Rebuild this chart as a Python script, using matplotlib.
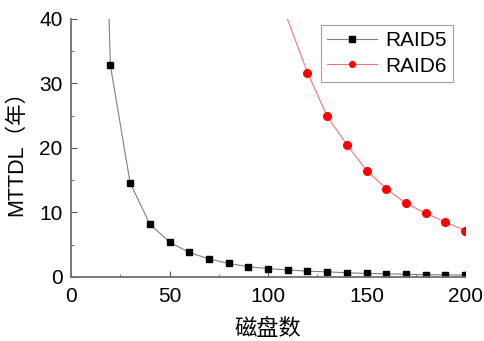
import matplotlib
matplotlib.use("Agg")
import matplotlib.pyplot as plt
from matplotlib.ticker import MultipleLocator

disks5 = [10, 20, 30, 40, 50, 60, 70, 80, 90, 100, 110, 120, 130, 140, 150, 160, 170, 180, 190, 200]
raid5 = [138, 32.8, 14.6, 8.2, 5.4, 3.8, 2.8, 2.1, 1.6, 1.3, 1.1, 0.9, 0.8, 0.65, 0.55, 0.5, 0.42, 0.37, 0.33, 0.3]
disks6 = [100, 120, 130, 140, 150, 160, 170, 180, 190, 200]
raid6 = [48, 31.7, 24.9, 20.5, 16.5, 13.7, 11.4, 9.9, 8.5, 7.2]

plt.rcParams['font.family'] = ['Liberation Sans', 'Noto Sans CJK SC', 'DejaVu Sans']

fig = plt.figure(figsize=(4.84, 3.41), dpi=100)
ax = fig.add_axes([0.1467, 0.1877, 0.8143, 0.7566])

ax.plot(disks5, raid5, color='#808080', lw=0.8, marker='s', ms=5,
        mfc='black', mec='black', label='RAID5')
ax.plot(disks6, raid6, color='#ff7070', lw=0.8, marker='o', ms=5.5,
        mfc='red', mec='red', label='RAID6')

ax.set_xlim(0, 200)
ax.set_ylim(0, 40)
ax.xaxis.set_major_locator(MultipleLocator(50))
ax.xaxis.set_minor_locator(MultipleLocator(25))
ax.yaxis.set_major_locator(MultipleLocator(10))
ax.yaxis.set_minor_locator(MultipleLocator(5))
ax.tick_params(which='both', direction='in', labelsize=15, color='#555555')
ax.tick_params(axis='x', pad=7)
ax.tick_params(axis='y', pad=6)
ax.tick_params(which='major', length=4)
ax.tick_params(which='minor', length=2.5)
for s in ['top', 'right']:
    ax.spines[s].set_visible(False)
for s in ['left', 'bottom']:
    ax.spines[s].set_color('#707070')
    ax.spines[s].set_linewidth(1.3)

ax.set_ylabel('MTTDL（年）', fontsize=15.5, family=['Liberation Sans', 'Noto Sans CJK SC'])
ax.yaxis.set_label_coords(-0.11, 0.5)
ax.set_xlabel('磁盘数', fontsize=16, family=['Noto Sans CJK SC'])
ax.xaxis.set_label_coords(0.5, -0.155)

leg = ax.legend(loc='upper right', fontsize=15, frameon=True, fancybox=False,
                edgecolor='#888888', borderpad=0.3, handlelength=2.4,
                handletextpad=0.4, labelspacing=0.3, borderaxespad=0,
                markerscale=0.75, bbox_to_anchor=(0.969, 0.976))
leg.get_frame().set_linewidth(0.8)

fig.savefig('out.png', dpi=100)
